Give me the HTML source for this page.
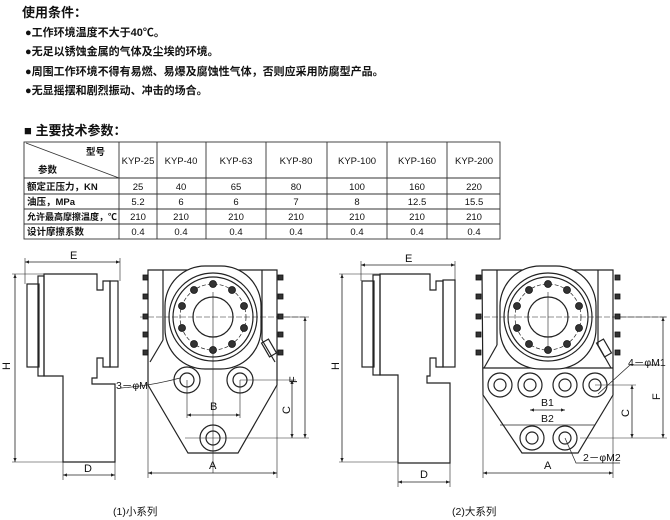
<!DOCTYPE html>
<html><head><meta charset="utf-8"><style>
html,body{margin:0;padding:0;background:#fff;}
svg{display:block;}
text{font-family:"Liberation Sans","Noto Sans CJK SC",sans-serif;fill:#111;}
.t{font-size:11px;font-weight:bold;}
.b{font-weight:bold;}
</style></head><body>
<svg width="670" height="520" viewBox="0 0 670 520" xmlns="http://www.w3.org/2000/svg">
<defs>
<marker id="ar" markerWidth="6" markerHeight="6" refX="5" refY="3" orient="auto-start-reverse"><path d="M0,1 L5,3 L0,5 z" fill="#222"/></marker>
</defs>
<text x="22" y="17" font-size="13" class="b">使用条件：</text>
<text x="25" y="36" class="t">●工作环境温度不大于40℃。</text>
<text x="25" y="55" class="t">●无足以锈蚀金属的气体及尘埃的环境。</text>
<text x="25" y="75" class="t">●周围工作环境不得有易燃、易爆及腐蚀性气体，否则应采用防腐型产品。</text>
<text x="25" y="94" class="t">●无显摇摆和剧烈振动、冲击的场合。</text>
<text x="24" y="135" font-size="13" class="b">■ 主要技术参数：</text>
<g stroke="#333" stroke-width="0.9" fill="none">
<rect x="24" y="142" width="476" height="97"/>
<line x1="24" y1="178" x2="500" y2="178"/>
<line x1="24" y1="194" x2="500" y2="194"/>
<line x1="24" y1="209" x2="500" y2="209"/>
<line x1="24" y1="224" x2="500" y2="224"/>
<line x1="119" y1="142" x2="119" y2="239"/>
<line x1="157" y1="142" x2="157" y2="239"/>
<line x1="206" y1="142" x2="206" y2="239"/>
<line x1="266" y1="142" x2="266" y2="239"/>
<line x1="327" y1="142" x2="327" y2="239"/>
<line x1="387" y1="142" x2="387" y2="239"/>
<line x1="447" y1="142" x2="447" y2="239"/>
<line x1="26" y1="143" x2="119" y2="178"/>
</g>
<g font-size="9.5">
<text x="86" y="155" font-weight="bold">型号</text><text x="38" y="173" font-weight="bold">参数</text>
<g text-anchor="middle">
<text x="138" y="164">KYP-25</text><text x="181" y="164">KYP-40</text><text x="236" y="164">KYP-63</text><text x="296" y="164">KYP-80</text><text x="357" y="164">KYP-100</text><text x="417" y="164">KYP-160</text><text x="474" y="164">KYP-200</text>
<text x="138" y="190">25</text><text x="181" y="190">40</text><text x="236" y="190">65</text><text x="296" y="190">80</text><text x="357" y="190">100</text><text x="417" y="190">160</text><text x="474" y="190">220</text>
<text x="138" y="205">5.2</text><text x="181" y="205">6</text><text x="236" y="205">6</text><text x="296" y="205">7</text><text x="357" y="205">8</text><text x="417" y="205">12.5</text><text x="474" y="205">15.5</text>
<text x="138" y="220">210</text><text x="181" y="220">210</text><text x="236" y="220">210</text><text x="296" y="220">210</text><text x="357" y="220">210</text><text x="417" y="220">210</text><text x="474" y="220">210</text>
<text x="138" y="235">0.4</text><text x="181" y="235">0.4</text><text x="236" y="235">0.4</text><text x="296" y="235">0.4</text><text x="357" y="235">0.4</text><text x="417" y="235">0.4</text><text x="474" y="235">0.4</text>
</g>
<g font-weight="bold">
<text x="27" y="190">额定正压力，KN</text>
<text x="27" y="205">油压，MPa</text>
<text x="27" y="220" font-size="9">允许最高摩擦温度，℃</text>
<text x="27" y="235">设计摩擦系数</text>
</g>
</g>

<g stroke="#222" stroke-width="1.2" fill="none">
<rect x="27" y="284" width="12" height="83"/>
<rect x="38" y="276" width="6" height="100"/>
<path d="M44,274 H97 V290 H103 V281 H110 V367 H103 V358 H97 V378 H92 V384 H115 V462 H63 V376 H44 Z"/>
<rect x="110" y="281" width="8" height="86"/>
<line x1="25" y1="262" x2="120" y2="262" stroke-width="0.8" marker-start="url(#ar)" marker-end="url(#ar)"/>
<line x1="25" y1="258" x2="25" y2="284" stroke-width="0.6"/>
<line x1="120" y1="258" x2="120" y2="281" stroke-width="0.6"/>
<line x1="15" y1="274" x2="15" y2="462" stroke-width="0.8" marker-start="url(#ar)" marker-end="url(#ar)"/>
<line x1="12" y1="274" x2="44" y2="274" stroke-width="0.6"/>
<line x1="12" y1="462" x2="63" y2="462" stroke-width="0.6"/>
<line x1="63" y1="475" x2="115" y2="475" stroke-width="0.8" marker-start="url(#ar)" marker-end="url(#ar)"/>
<line x1="63" y1="462" x2="63" y2="480" stroke-width="0.6"/>
<line x1="115" y1="462" x2="115" y2="480" stroke-width="0.6"/>
</g>
<text x="70" y="259" font-size="11">E</text>
<text x="84" y="472" font-size="11">D</text>
<text x="0" y="0" font-size="11" transform="translate(10,370) rotate(-90)">H</text>

<g stroke="#222" stroke-width="1.2" fill="none">
<path d="M148,270 H277 V385 L238,453 H188 L148,385 Z" fill="#fff"/>
<line x1="163" y1="270" x2="163" y2="340"/>
<line x1="262" y1="270" x2="262" y2="340"/>
<line x1="163" y1="340" x2="150" y2="362"/>
<line x1="262" y1="340" x2="275" y2="362"/>
<rect x="165" y="266" width="96" height="103" rx="40" fill="#fff"/>
<circle cx="213" cy="317" r="44"/>
<circle cx="213" cy="317" r="40"/>
<circle cx="213" cy="317" r="33" stroke-dasharray="4,2" stroke-width="0.7"/>
<circle cx="213" cy="317" r="20"/>
<line x1="140" y1="317" x2="305" y2="317" stroke-dasharray="6,2" stroke-width="0.6"/>
<line x1="213" y1="292" x2="213" y2="473" stroke-width="0.6"/>
<circle cx="187" cy="380" r="13"/><circle cx="187" cy="380" r="7"/>
<circle cx="240" cy="380" r="13"/><circle cx="240" cy="380" r="7"/>
<circle cx="213" cy="438" r="13"/><circle cx="213" cy="438" r="7"/>
<line x1="148" y1="385" x2="148" y2="478" stroke-width="0.6"/>
<line x1="277" y1="385" x2="277" y2="478" stroke-width="0.6"/>
<line x1="148" y1="473" x2="277" y2="473" stroke-width="0.8" marker-start="url(#ar)" marker-end="url(#ar)"/>
<line x1="187" y1="380" x2="187" y2="418" stroke-width="0.6"/>
<line x1="240" y1="380" x2="240" y2="418" stroke-width="0.6"/>
<line x1="187" y1="415" x2="240" y2="415" stroke-width="0.8" marker-start="url(#ar)" marker-end="url(#ar)"/>
<line x1="240" y1="380" x2="296" y2="380" stroke-width="0.6"/>
<line x1="185" y1="438" x2="309" y2="438" stroke-width="0.6"/>
<line x1="277" y1="317" x2="309" y2="317" stroke-width="0.6"/>
<line x1="292" y1="380" x2="292" y2="438" stroke-width="0.8" marker-start="url(#ar)" marker-end="url(#ar)"/>
<line x1="305" y1="317" x2="305" y2="438" stroke-width="0.8" marker-start="url(#ar)" marker-end="url(#ar)"/>
<path d="M121,388 Q150,386 180,378" stroke-width="0.7"/>
<rect x="265" y="340" width="8" height="16" transform="rotate(-30 269 348)"/>
</g>
<g fill="#333" stroke="#111" stroke-width="0.8">
<rect x="143" y="275" width="5" height="5"/><rect x="143" y="294" width="5" height="5"/><rect x="143" y="314" width="5" height="5"/><rect x="143" y="332" width="5" height="5"/><rect x="143" y="350" width="5" height="5"/>
<rect x="278" y="275" width="5" height="5"/><rect x="278" y="294" width="5" height="5"/><rect x="278" y="314" width="5" height="5"/><rect x="278" y="332" width="5" height="5"/><rect x="278" y="350" width="5" height="5"/>
<circle cx="213" cy="284" r="3.5"/><circle cx="232" cy="290" r="3.5"/><circle cx="244" cy="306" r="3.5"/><circle cx="244" cy="328" r="3.5"/><circle cx="232" cy="344" r="3.5"/>
<circle cx="213" cy="350" r="3.5"/><circle cx="194" cy="344" r="3.5"/><circle cx="182" cy="328" r="3.5"/><circle cx="182" cy="306" r="3.5"/><circle cx="194" cy="290" r="3.5"/>
</g>
<text x="116" y="389" font-size="10.5">3－φM</text>
<text x="210" y="410" font-size="11">B</text>
<text x="209" y="469" font-size="11">A</text>
<text x="0" y="0" font-size="11" transform="translate(290,414) rotate(-90)">C</text>
<text x="0" y="0" font-size="11" transform="translate(297,383) rotate(-90)">F</text>
<text x="113" y="515" font-size="10.5">(1)小系列</text>

<g stroke="#222" stroke-width="1.2" fill="none">
<rect x="362" y="281" width="12" height="86"/>
<rect x="373" y="275" width="7" height="100"/>
<path d="M380,274 H430 V290 H436 V281 H443 V367 H436 V358 H430 V376 H427 V383 H450 V463 H398 V375 H380 Z"/>
<rect x="443" y="280" width="12" height="87"/>
<line x1="361" y1="265" x2="455" y2="265" stroke-width="0.8" marker-start="url(#ar)" marker-end="url(#ar)"/>
<line x1="361" y1="261" x2="361" y2="281" stroke-width="0.6"/>
<line x1="455" y1="261" x2="455" y2="280" stroke-width="0.6"/>
<line x1="342" y1="274" x2="342" y2="462" stroke-width="0.8" marker-start="url(#ar)" marker-end="url(#ar)"/>
<line x1="339" y1="274" x2="380" y2="274" stroke-width="0.6"/>
<line x1="339" y1="462" x2="398" y2="462" stroke-width="0.6"/>
<line x1="398" y1="482" x2="450" y2="482" stroke-width="0.8" marker-start="url(#ar)" marker-end="url(#ar)"/>
<line x1="398" y1="463" x2="398" y2="487" stroke-width="0.6"/>
<line x1="450" y1="463" x2="450" y2="487" stroke-width="0.6"/>
</g>
<text x="405" y="262" font-size="11">E</text>
<text x="420" y="478" font-size="11">D</text>
<text x="0" y="0" font-size="11" transform="translate(339,370) rotate(-90)">H</text>

<g stroke="#222" stroke-width="1.2" fill="none">
<path d="M482,270 H613 V395 L578,453 H522 L483,395 Z" fill="#fff"/>
<line x1="497" y1="270" x2="497" y2="345"/>
<line x1="598" y1="270" x2="598" y2="345"/>
<line x1="497" y1="345" x2="484" y2="368"/>
<line x1="598" y1="345" x2="611" y2="368"/>
<line x1="483" y1="368" x2="613" y2="368"/>
<rect x="500" y="266" width="96" height="103" rx="40" fill="#fff"/>
<circle cx="548" cy="317" r="44"/>
<circle cx="548" cy="317" r="40"/>
<circle cx="548" cy="317" r="33" stroke-dasharray="4,2" stroke-width="0.7"/>
<circle cx="548" cy="317" r="20"/>
<line x1="476" y1="317" x2="666" y2="317" stroke-dasharray="6,2" stroke-width="0.6"/>
<line x1="548" y1="292" x2="548" y2="350" stroke-width="0.6"/>
<circle cx="500" cy="385" r="12"/><circle cx="500" cy="385" r="6"/>
<circle cx="530" cy="385" r="12"/><circle cx="530" cy="385" r="6"/>
<circle cx="565" cy="385" r="12"/><circle cx="565" cy="385" r="6"/>
<circle cx="595" cy="385" r="12"/><circle cx="595" cy="385" r="6"/>
<circle cx="532" cy="438" r="12"/><circle cx="532" cy="438" r="6"/>
<circle cx="565" cy="438" r="12"/><circle cx="565" cy="438" r="6"/>
<line x1="483" y1="395" x2="483" y2="478" stroke-width="0.6"/>
<line x1="613" y1="395" x2="613" y2="478" stroke-width="0.6"/>
<line x1="483" y1="473" x2="613" y2="473" stroke-width="0.8" marker-start="url(#ar)" marker-end="url(#ar)"/>
<line x1="530" y1="410" x2="565" y2="410" stroke-width="0.8" marker-start="url(#ar)" marker-end="url(#ar)"/>
<line x1="500" y1="425" x2="595" y2="425" stroke-width="0.8"/>
<line x1="595" y1="385" x2="636" y2="385" stroke-width="0.6"/>
<line x1="580" y1="438" x2="667" y2="438" stroke-width="0.6"/>
<line x1="613" y1="317" x2="667" y2="317" stroke-width="0.6"/>
<line x1="632" y1="385" x2="632" y2="438" stroke-width="0.8" marker-start="url(#ar)" marker-end="url(#ar)"/>
<line x1="663" y1="317" x2="663" y2="438" stroke-width="0.8" marker-start="url(#ar)" marker-end="url(#ar)"/>
<path d="M598,394 L630,365 H660" stroke-width="0.7"/>
<path d="M565,438 L576,463 H620" stroke-width="0.7"/>
<rect x="600" y="340" width="8" height="16" transform="rotate(-30 604 348)"/>
</g>
<g fill="#333" stroke="#111" stroke-width="0.8">
<rect x="476" y="275" width="5" height="5"/><rect x="476" y="294" width="5" height="5"/><rect x="476" y="314" width="5" height="5"/><rect x="476" y="332" width="5" height="5"/><rect x="476" y="350" width="5" height="5"/>
<rect x="615" y="275" width="5" height="5"/><rect x="615" y="294" width="5" height="5"/><rect x="615" y="314" width="5" height="5"/><rect x="615" y="332" width="5" height="5"/><rect x="615" y="350" width="5" height="5"/>
<circle cx="548" cy="284" r="3.5"/><circle cx="567" cy="290" r="3.5"/><circle cx="579" cy="306" r="3.5"/><circle cx="579" cy="328" r="3.5"/><circle cx="567" cy="344" r="3.5"/>
<circle cx="548" cy="350" r="3.5"/><circle cx="529" cy="344" r="3.5"/><circle cx="517" cy="328" r="3.5"/><circle cx="517" cy="306" r="3.5"/><circle cx="529" cy="290" r="3.5"/>
</g>
<text x="628" y="366" font-size="10.5">4－φM1</text>
<text x="583" y="461" font-size="10.5">2－φM2</text>
<text x="541" y="406" font-size="10.5">B1</text>
<text x="541" y="422" font-size="10.5">B2</text>
<text x="544" y="469" font-size="11">A</text>
<text x="0" y="0" font-size="11" transform="translate(629,417) rotate(-90)">C</text>
<text x="0" y="0" font-size="11" transform="translate(660,400) rotate(-90)">F</text>
<text x="452" y="515" font-size="10.5">(2)大系列</text>
</svg>
</body></html>
